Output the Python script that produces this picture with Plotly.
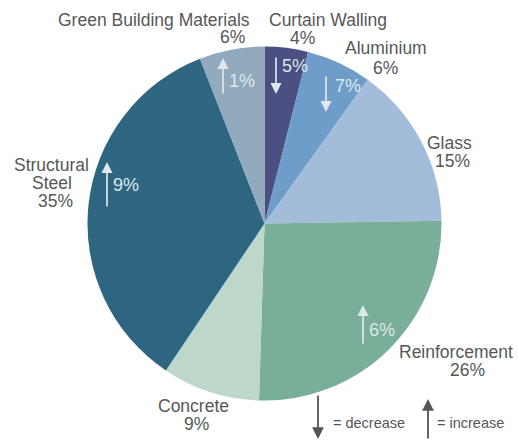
import plotly.graph_objects as go

W, H = 518, 441

materials = ["Curtain Walling", "Aluminium", "Glass", "Reinforcement",
             "Concrete", "Structural Steel", "Green Building Materials"]
shares = [4, 6, 15, 26, 9, 35, 6]
changes = [-5, -7, None, 6, None, 9, 1]
colors = ["#4b4f82", "#6e9dc9", "#a2bcd9", "#79ae99", "#bed7cb", "#2e6580", "#91aabe"]

TXT = "#575757"
LIGHT = "#dfe8ea"
FONT = "Liberation Sans, Arial, sans-serif"

fig = go.Figure()

cx, cy, r = 264.5, 223.5, 177
fig.add_trace(go.Pie(
    labels=materials, values=shares, sort=False, direction="clockwise",
    rotation=0, marker=dict(colors=colors, line=dict(width=0)),
    textinfo="none", hoverinfo="label+value", showlegend=False,
    domain=dict(x=[(cx - r) / W, (cx + r) / W], y=[(H - cy - r) / H, (H - cy + r) / H]),
))

def px(x):
    return x / W

def py(y):
    return 1 - y / H

anns = []

def label(x, y, text, size=17.5):
    anns.append(dict(x=px(x), y=py(y), xref="paper", yref="paper", text=text,
                     showarrow=False, font=dict(family=FONT, size=size, color=TXT),
                     xanchor="center", yanchor="middle", align="center"))

# outside labels: name and share
label_pos = {
    "Curtain Walling": ((328, 20), (302, 38)),
    "Aluminium": ((386, 48), (385, 68)),
    "Glass": ((449, 143), (452, 161)),
    "Reinforcement": ((456, 352), (467, 370)),
    "Concrete": ((193, 406), (196, 424)),
    "Green Building Materials": ((154, 20), (232, 37)),
}
for name, share in zip(materials, shares):
    if name == "Structural Steel":
        continue
    (nx, ny), (sx, sy) = label_pos[name]
    label(nx, ny, name)
    label(sx, sy, f"{share}%")
label(51, 165, "Structural")
label(52, 183, "Steel")
label(55, 201, f"{shares[5]}%")

# change arrows inside slices
arrow_pos = {
    "Curtain Walling": (276, 56, 94, 295, 66),
    "Aluminium": (326, 75, 112, 348, 86),
    "Reinforcement": (363, 305, 345, 382, 330),
    "Structural Steel": (107, 162, 208, 126, 185),
    "Green Building Materials": (223, 58, 95, 242, 81),
}

def arrow(x, y_top, y_bot, up, color, width=1.7):
    if up:
        anns.append(dict(x=px(x), y=py(y_top), xref="paper", yref="paper", text="",
                         showarrow=True, arrowhead=2, arrowsize=1.3, arrowwidth=width,
                         arrowcolor=color, ax=0, ay=y_bot - y_top, standoff=0, startstandoff=0))
    else:
        anns.append(dict(x=px(x), y=py(y_bot), xref="paper", yref="paper", text="",
                         showarrow=True, arrowhead=2, arrowsize=1.3, arrowwidth=width,
                         arrowcolor=color, ax=0, ay=-(y_bot - y_top), standoff=0, startstandoff=0))

for name, ch in zip(materials, changes):
    if ch is None:
        continue
    x, yt, yb, tx, ty = arrow_pos[name]
    arrow(x, yt, yb, ch > 0, LIGHT)
    anns.append(dict(x=px(tx), y=py(ty), xref="paper", yref="paper", text=f"{abs(ch)}%",
                     showarrow=False, font=dict(family=FONT, size=18, color=LIGHT),
                     xanchor="center", yanchor="middle"))

# legend
arrow(318, 394, 439, False, "#555555", 1.8)
label(369, 423, "= decrease", 14.5)
arrow(428, 399, 440, True, "#555555", 1.8)
label(470, 423, "= increase", 14.5)

fig.update_layout(
    width=W, height=H, margin=dict(l=0, r=0, t=0, b=0),
    paper_bgcolor="white", plot_bgcolor="white",
    annotations=anns, font=dict(family=FONT),
)

fig.write_html("out.html")
